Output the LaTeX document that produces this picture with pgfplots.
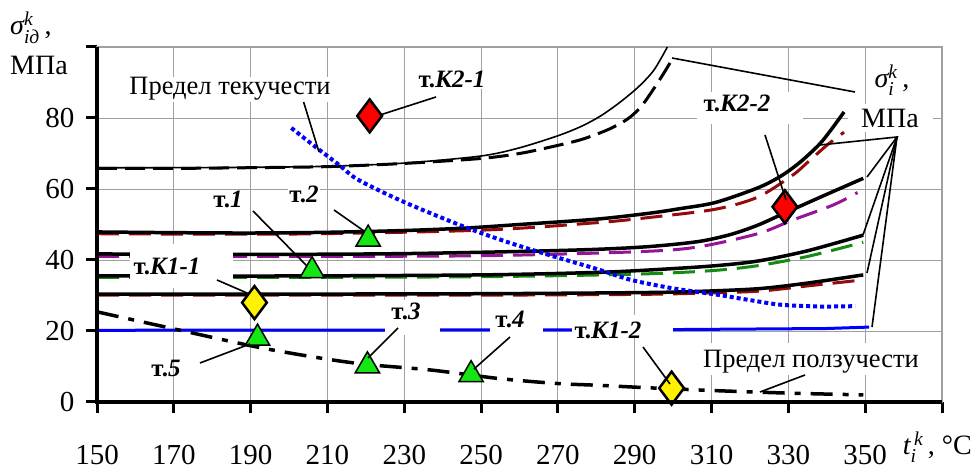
\documentclass[border=0pt]{standalone}
\usepackage{fontspec}
\setmainfont{Liberation Serif}
\usepackage{amsmath}
\usepackage{pgfplots}
\pgfplotsset{compat=1.18}
\definecolor{dred}{RGB}{150,10,10}
\definecolor{dpurple}{RGB}{150,20,150}
\definecolor{dgreen}{RGB}{20,140,20}
\definecolor{tgreen}{RGB}{20,230,20}
\definecolor{bblue}{RGB}{0,0,255}
\definecolor{gridgray}{RGB}{160,160,160}
\newcommand{\annfont}{\fontsize{25}{27}\selectfont}
\newcommand{\predfont}{\fontsize{26.5}{28}\selectfont}
\newcommand{\labfont}{\fontsize{28}{30}\selectfont}
\begin{document}
\begin{tikzpicture}
\path (0pt,0pt) rectangle (974pt,466pt);
% grid and tick marks (pixel coordinates, origin top-left), under the plot
\begin{scope}[x=1pt, y=1pt, shift={(0pt,466pt)}, yscale=-1]
\foreach \X in {170,190,...,350} \draw[gridgray, line width=0.9pt] ({97+(\X-150)*3.8409},47) -- ({97+(\X-150)*3.8409},402);
\foreach \Y in {20,40,...,80} \draw[gridgray, line width=0.9pt] (97,{402-\Y*3.55}) -- (942,{402-\Y*3.55});
\foreach \X in {150,170,...,370} \draw[black, line width=3pt] ({97+(\X-150)*3.8409},402) -- ({97+(\X-150)*3.8409},413);
\foreach \Y in {0,20,...,100} \draw[black, line width=3pt] (86,{402-\Y*3.55}) -- (97,{402-\Y*3.55});
\draw[gridgray, line width=2.2pt] (97,47) -- (942,47) -- (942,402);
\end{scope}
\begin{axis}[
  at={(97pt,64pt)}, anchor=south west,
  scale only axis, width=845pt, height=355pt,
  xmin=150, xmax=370, ymin=0, ymax=100,
  axis line style={draw=gridgray, line width=2.2pt},
  xtick={150,170,...,370}, ytick={0,20,...,100},
  xticklabels={150,170,190,210,230,250,270,290,310,330,350,{}},
  yticklabels={0,20,40,60,80,{}},
  tick pos=left,
  tick align=outside, major tick length=11pt,
  every tick/.style={line width=3pt, black},
  xticklabel style={font=\fontsize{29}{31}\selectfont, yshift=-29pt},
  yticklabel style={font=\fontsize{29}{31}\selectfont, xshift=-8pt},
  /pgf/number format/assume math mode=true,
]
% top curves
\addplot[black, line width=3pt, dash pattern=on 20pt off 8pt, smooth] coordinates {(150,65.8)(170,65.8)(190,66)(210,66.3)(230,67.2)(250,68.6)(260,70)(268,71.8)(276,73.9)(283,76.7)(288,79.6)(291.5,83)(294.5,87.5)(297.5,92.5)(300,97)};
\addplot[black, line width=1.6pt, smooth] coordinates {(150,66)(170,66)(190,66.1)(210,66.4)(230,67.3)(250,69.3)(260,71.6)(270,75)(276,77.6)(281,80.5)(286,84.3)(291,88.8)(295,93.5)(298.5,100)};
% coloured dashed curves
\addplot[dred, line width=3pt, dash pattern=on 22pt off 10pt, smooth] coordinates {(150,47.4)(200,47.3)(250,48.4)(280,50.5)(294,52)(311,54.3)(322,57.7)(331,63.8)(335,67.5)(340,72.3)(344.5,76)};
\addplot[dpurple, line width=3pt, dash pattern=on 22pt off 10pt, smooth] coordinates {(150,41)(200,41)(250,41.2)(290,42.3)(306,43.6)(322,47.4)(331,51.2)(341.7,55.5)(348,59)};
\addplot[dgreen, line width=3pt, dash pattern=on 22pt off 10pt, smooth] coordinates {(150,35.1)(200,35.1)(250,35.3)(290,36)(310,37)(322,38.4)(335,41)(349.5,45)};
\addplot[dred, line width=3pt, dash pattern=on 22pt off 10pt, smooth] coordinates {(150,30.1)(200,30.1)(250,30.1)(290,30.3)(305,30.6)(322,31.2)(335,32.7)(349.5,34.4)};
% black solid curves
\addplot[black, line width=3.5pt, smooth] coordinates {(150,47.9)(170,47.7)(190,47.6)(210,47.8)(230,48.3)(246,49)(260,50)(280,51.5)(294,53.2)(302,54.5)(311,56.2)(322,60.3)(328,63.6)(333,67.5)(338,72.5)(341,76.5)(344.5,81.7)};
\addplot[black, line width=3.5pt, smooth] coordinates {(150,41.7)(200,41.6)(230,41.8)(260,42.4)(280,43)(294,43.8)(306.6,45.2)(315,47.2)(322,49.8)(329,53.2)(340,58.5)(349.5,63)};
\addplot[black, line width=3.5pt, smooth] coordinates {(150,35.5)(200,35.5)(250,35.8)(280,36.5)(294,37.2)(310,38.3)(322,39.7)(335,42.6)(349.5,47)};
\addplot[black, line width=3.5pt, smooth] coordinates {(150,30.4)(200,30.4)(250,30.5)(290,30.8)(305,31.1)(322,31.9)(335,33.5)(349.5,35.8)};
% blue line
\addplot[bblue, line width=3pt] coordinates {(150,20.2)(250,20.3)(300,20.4)(340,20.7)(351,21.1)};
% yield limit (dotted)
\addplot[bblue, line width=4pt, dash pattern=on 4pt off 3pt, smooth] coordinates {(200.6,77.2)(206,72.6)(213,66.8)(218,62.6)(230,56.3)(246,49.2)(257,45)(267.7,41.4)(280,37.5)(289,34.4)(300,32)(311,30.3)(320,28.7)(328,27.4)(338,26.9)(347.4,27)};
% creep limit (dash-dot)
\addplot[black, line width=3.5pt, dash pattern=on 22pt off 10pt on 6pt off 10pt, smooth] coordinates {(150,25.4)(170,20.6)(191.6,15.5)(208,12.4)(220,10.6)(237,9)(254.7,6.6)(270,5.2)(280.6,4.7)(293.6,4.0)(311,3.2)(330,2.5)(349.5,2)};
% points
\addplot[only marks, mark=triangle*, mark size=14pt, mark options={fill=tgreen, draw=black, line width=1.5pt}] coordinates {(206,37)(220.6,45.9)(220.4,10.2)(247.4,7.7)(191.8,18)};
\addplot[only marks, mark=diamond*, mark size=16.5pt, mark options={fill=red, draw=black, line width=2.5pt}] coordinates {(221,80.6)(329.1,55)};
\addplot[only marks, mark=diamond*, mark size=16.5pt, mark options={fill=yellow, draw=black, line width=2.5pt}] coordinates {(191,28)(299.6,3.9)};
\end{axis}
% annotation layer, pixel coordinates (origin top-left)
\begin{scope}[x=1pt, y=1pt, shift={(0pt,466pt)}, yscale=-1]
\draw[black, line width=3.4pt] (97,47) -- (97,402) -- (942,402);
\fill[white] (130,244) rectangle (233,288);
\fill[white] (385,300) rectangle (440,335);
\fill[white] (490,308) rectangle (543,335);
\fill[white] (572,315) rectangle (673,336);
\fill[white] (697,92) rectangle (803,124);
\fill[white] (848,104) rectangle (933,132);
\fill[white] (700,343) rectangle (925,375);
\begin{scope}[line width=1.6pt]
\draw (303,100) -- (319,152);
\draw (436,97) -- (380,115);
\draw (672,58) -- (855,92);
\draw (820,145) -- (897,137) -- (867,177);
\draw (897,137) -- (863,235);
\draw (897,137) -- (867,273);
\draw (897,137) -- (872,327);
\draw (765,135) -- (786,200);
\draw (253,211) -- (307,266);
\draw (334,210) -- (364,231);
\draw (217,280) -- (247,293);
\draw (200,363) -- (250,344);
\draw (398,328) -- (368,358);
\draw (510,337) -- (474,369);
\draw (643,347) -- (670,384);
\draw (805,375) -- (760,392);
\end{scope}
\node[anchor=base, fill=white, inner sep=1pt, font=\predfont] at (230,95) {Предел текучести};
\node[anchor=base, fill=white, inner sep=1pt, font=\annfont] at (452,88) {\textbf{т.\textit{К2-1}}};
\node[anchor=base, inner sep=0pt, font=\labfont] at (892,88) {$\text{\itshape σ}^{\text{\itshape k}}_{\text{\itshape i}}$\,,};
\node[anchor=base, inner sep=0pt, font=\labfont] at (890,128) {МПа};
\node[anchor=base, inner sep=0pt, font=\annfont] at (737,112) {\textbf{т.\textit{К2-2}}};
\node[anchor=base, fill=white, inner sep=1pt, font=\annfont] at (228,208) {\textbf{т.\textit{1}}};
\node[anchor=base, fill=white, inner sep=1pt, font=\annfont] at (304,203) {\textbf{т.\textit{2}}};
\node[anchor=base, inner sep=0pt, font=\annfont] at (167,275) {\textbf{т.\textit{К1-1}}};
\node[anchor=base, inner sep=0pt, font=\annfont] at (166,377) {\textbf{т.\textit{5}}};
\node[anchor=base, inner sep=0pt, font=\annfont] at (406,320) {\textbf{т.\textit{3}}};
\node[anchor=base, inner sep=0pt, font=\annfont] at (510,328) {\textbf{т.\textit{4}}};
\node[anchor=base, inner sep=0pt, font=\annfont] at (608,339) {\textbf{т.\textit{К1-2}}};
\node[anchor=base, inner sep=0pt, font=\predfont] at (811,368) {Предел ползучести};
\node[anchor=base west, inner sep=0pt, font=\labfont] at (10,35) {$\text{\itshape σ}^{\text{\itshape k}}_{\text{\itshape iд}}$\,,};
\node[anchor=base west, inner sep=0pt, font=\labfont] at (10,75) {МПа};
\node[anchor=base east, inner sep=0pt, font=\labfont] at (972,455) {$\text{\itshape t}^{\,\text{\itshape k}}_{\text{\itshape i}}$\,, °C};
\end{scope}
\end{tikzpicture}
\end{document}
